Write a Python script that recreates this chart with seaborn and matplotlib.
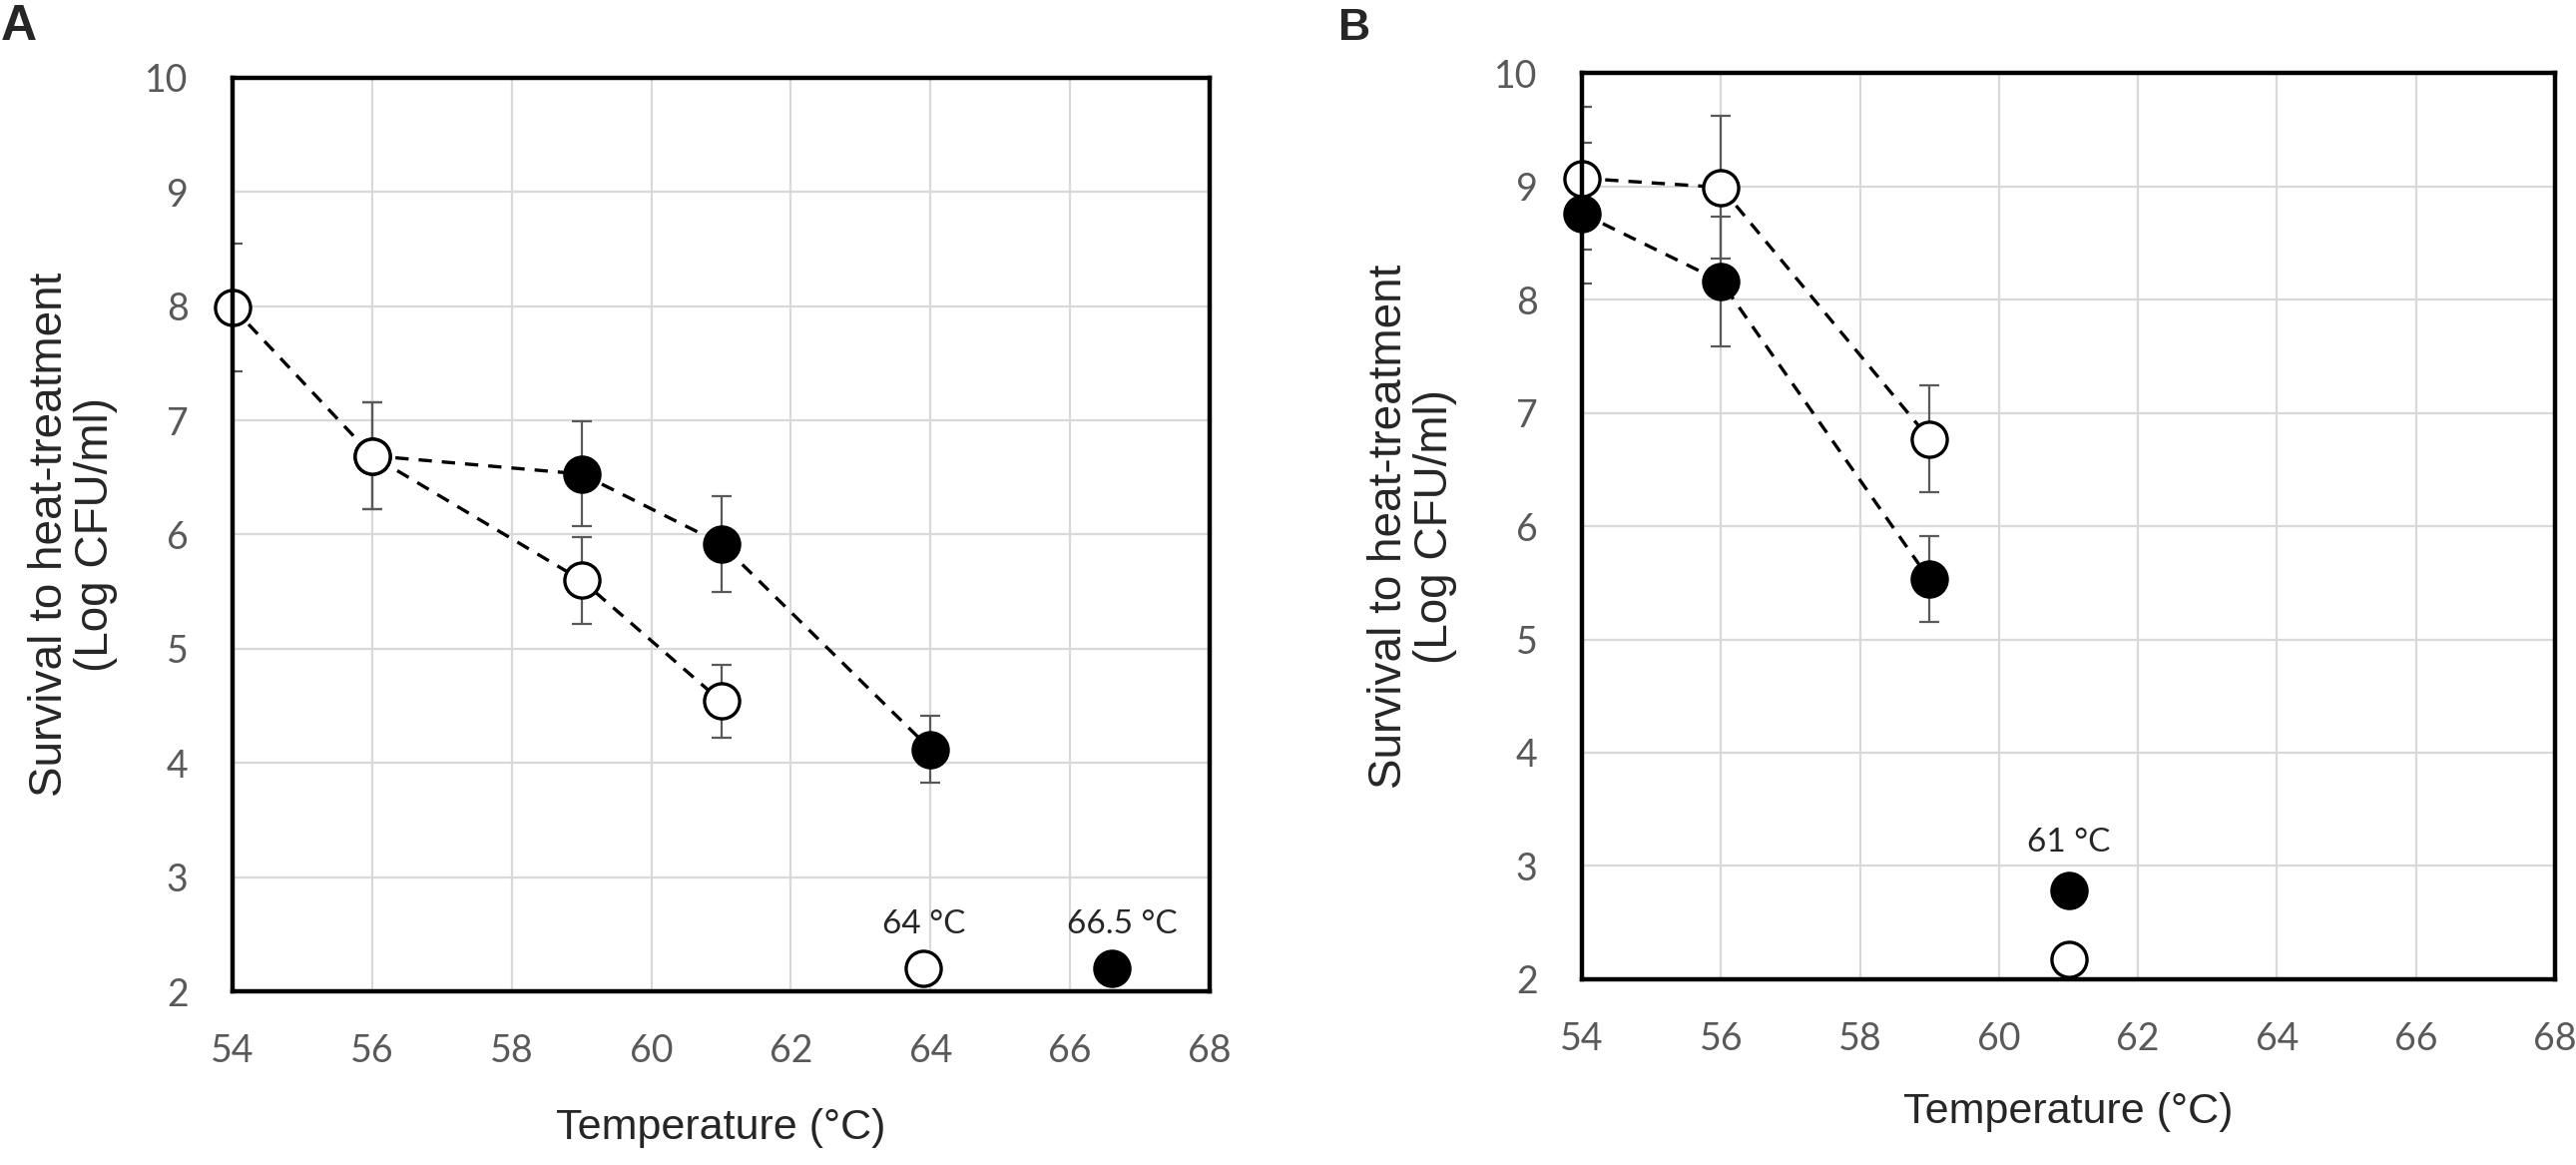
import matplotlib
matplotlib.use("Agg")
import matplotlib.pyplot as plt
import seaborn as sns
import pandas as pd

# Panel A: open circles (strain 1), filled circles (strain 2)
a_open_temp = [54, 56, 59, 61]
a_open_log = [7.99, 6.69, 5.60, 4.54]
a_open_err = [0.56, 0.47, 0.38, 0.32]
a_filled_temp = [56, 59, 61, 64]
a_filled_log = [6.69, 6.53, 5.92, 4.12]
a_filled_err = [0.47, 0.46, 0.42, 0.29]
a_open_limit = (63.9, 2.2, "64 °C")
a_filled_limit = (66.6, 2.2, "66.5 °C")

# Panel B
b_open_temp = [54, 56, 59]
b_open_log = [9.07, 8.99, 6.77]
b_open_err = [0.63, 0.63, 0.47]
b_filled_temp = [54, 56, 59]
b_filled_log = [8.76, 8.16, 5.53]
b_filled_err = [0.62, 0.57, 0.38]
b_open_limit = (61, 2.18)
b_filled_limit = (61, 2.78)
b_limit_label = "61 °C"

x_ticks = [54, 56, 58, 60, 62, 64, 66, 68]
y_ticks = [2, 3, 4, 5, 6, 7, 8, 9, 10]

sns.set_style("white")
plt.rcParams["font.family"] = ["Liberation Sans", "DejaVu Sans"]

GRID = "#d9d9d9"
TICK = "#595959"
MS = 640


def draw_series(ax, temp, vals, err):
    df = pd.DataFrame({"temp": temp, "log": vals})
    sns.lineplot(data=df, x="temp", y="log", ax=ax, color="black", lw=2.4,
                 linestyle=(0, (4, 3)), zorder=3)
    ax.errorbar(temp, vals, yerr=err, fmt="none", ecolor=TICK, elinewidth=1.6,
                capsize=7, capthick=1.6, zorder=2)


def draw_points(ax, temp, vals, filled):
    sns.scatterplot(x=temp, y=vals, ax=ax, s=MS, marker="o",
                    color="black" if filled else "white",
                    edgecolor="black", linewidth=2.4, zorder=4 if filled else 5)


def style_axes(ax):
    ax.set_xlim(54, 68)
    ax.set_ylim(2, 10)
    ax.set_xticks(x_ticks)
    ax.set_yticks(y_ticks)
    ax.grid(True, color=GRID, lw=1.6, zorder=0)
    ax.set_axisbelow(True)
    for s in ax.spines.values():
        s.set_visible(True)
        s.set_color("black")
        s.set_linewidth(3.2)
        s.set_zorder(6)
    ax.tick_params(axis="both", length=0, labelcolor=TICK, labelsize=27)
    ax.tick_params(axis="x", pad=30)
    ax.tick_params(axis="y", pad=32)
    for lab in ax.get_xticklabels() + ax.get_yticklabels():
        lab.set_family(["Lato", "DejaVu Sans"])
    ax.set_xlabel("Temperature (°C)", fontsize=31)
    ax.set_ylabel("Survival to heat-treatment\n(Log CFU/ml)", fontsize=33,
                  linespacing=1.05)


fig = plt.figure(figsize=(25.81, 11.67), dpi=100)
ax_a = fig.add_axes([0.0903, 0.1491, 0.3793, 0.7841])
ax_b = fig.add_axes([0.6141, 0.1594, 0.3778, 0.7780])

# panel A
draw_series(ax_a, a_open_temp, a_open_log, a_open_err)
draw_series(ax_a, a_filled_temp, a_filled_log, a_filled_err)
draw_points(ax_a, a_filled_temp + [a_filled_limit[0]], a_filled_log + [a_filled_limit[1]], True)
draw_points(ax_a, a_open_temp + [a_open_limit[0]], a_open_log + [a_open_limit[1]], False)
ax_a.text(a_open_limit[0], 2.59, a_open_limit[2], ha="center", va="center",
          fontsize=24, family=["Lato", "DejaVu Sans"])
ax_a.text(66.75, 2.59, a_filled_limit[2], ha="center", va="center",
          fontsize=24, family=["Lato", "DejaVu Sans"])
style_axes(ax_a)
ax_a.xaxis.set_label_coords(0.5, -0.128)
ax_a.yaxis.set_label_coords(-0.118, 0.5)

# panel B
draw_series(ax_b, b_open_temp, b_open_log, b_open_err)
draw_series(ax_b, b_filled_temp, b_filled_log, b_filled_err)
draw_points(ax_b, b_filled_temp + [b_filled_limit[0]], b_filled_log + [b_filled_limit[1]], True)
draw_points(ax_b, b_open_temp + [b_open_limit[0]], b_open_log + [b_open_limit[1]], False)
ax_b.text(61, 3.21, b_limit_label, ha="center", va="center",
          fontsize=24, family=["Lato", "DejaVu Sans"])
style_axes(ax_b)
ax_b.xaxis.set_label_coords(0.5, -0.124)
ax_b.yaxis.set_label_coords(-0.128, 0.5)

for ax in (ax_a, ax_b):
    for c in ax.collections:
        c.set_clip_on(False)

fig.text(19 / 2581, 1 - 27 / 1167, "A", fontsize=36, fontweight="bold",
         ha="center", va="center")
fig.text(1357 / 2581, 1 - 28 / 1167, "B", fontsize=32, fontweight="bold",
         ha="center", va="center")

fig.savefig("out.png", dpi=100, facecolor="white")
